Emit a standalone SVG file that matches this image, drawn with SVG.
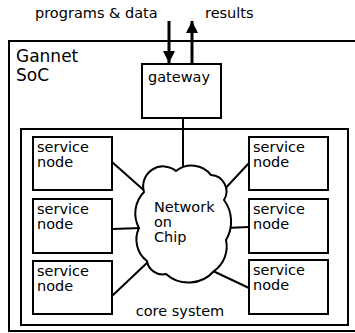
<svg xmlns="http://www.w3.org/2000/svg" width="355" height="333" viewBox="0 0 355 333">
<style>
text{font-family:"DejaVu Sans","Liberation Sans",sans-serif;font-size:14.5px;fill:#000}
.big{font-size:17px}
.box{fill:#fff;stroke:#000;stroke-width:2}
.frame{fill:none;stroke:#000;stroke-width:2}
.conn{stroke:#000;stroke-width:2;fill:none}
.arrow{stroke:#000;stroke-width:3;fill:none}
</style>
<defs>
<marker id="ah" viewBox="0 0 10 10" refX="10" refY="5" markerWidth="4" markerHeight="4.5" markerUnits="strokeWidth" orient="auto">
<path d="M0,0 L10,5 L0,10 Z" fill="#000"/>
</marker>
</defs>
<rect fill="#fff" x="0" y="0" width="355" height="333"/>
<g id="soc">
<rect class="frame" x="9" y="41" width="360" height="290"/>
<text class="big" x="16" y="62">Gannet</text>
<text class="big" x="16" y="80.5">SoC</text>
</g>
<g id="core-system">
<rect class="frame" x="21" y="129" width="327" height="196"/>
<text x="180" y="316" text-anchor="middle">core system</text>
</g>
<g id="io-labels">
<text x="35" y="18">programs &amp; data</text>
<text x="205" y="18">results</text>
</g>
<g id="connectors">
<line class="arrow" x1="169" y1="21" x2="169" y2="63" marker-end="url(#ah)"/>
<line class="arrow" x1="192" y1="64" x2="192" y2="21" marker-end="url(#ah)"/>
<line class="conn" x1="183" y1="118" x2="183" y2="172"/>
<line class="conn" x1="112" y1="162" x2="147" y2="193"/>
<line class="conn" x1="112" y1="229" x2="142" y2="228"/>
<line class="conn" x1="112" y1="296" x2="149" y2="261"/>
<line class="conn" x1="249" y1="163" x2="221" y2="193"/>
<line class="conn" x1="249" y1="227" x2="226" y2="228"/>
<line class="conn" x1="249" y1="288" x2="213" y2="271"/>
</g>
<g id="gateway">
<rect class="box" x="142" y="64" width="79" height="54"/>
<text x="148" y="82">gateway</text>
</g>
<g id="noc">
<path class="box" d="M144,192 A20,20 0 0 1 176,171 A25,25 0 0 1 211,175 A16.4,16.4 0 0 1 224,200 A36,36 0 0 1 226,240 A30,30 0 0 1 214,271 A33.8,33.8 0 0 1 166,274 A15.7,15.7 0 0 1 147,261 A27,27 0 0 1 139,228 A30.6,30.6 0 0 1 144,192 Z"/>
<text x="154" y="212">Network</text>
<text x="154" y="227">on</text>
<text x="154" y="242">Chip</text>
</g>
<g id="sn-l1"><rect class="box" x="33" y="137" width="79" height="53"/><text x="37" y="151.5">service</text><text x="37" y="166.5">node</text></g>
<g id="sn-l2"><rect class="box" x="33" y="199" width="79" height="54"/><text x="37" y="213.5">service</text><text x="37" y="228.5">node</text></g>
<g id="sn-l3"><rect class="box" x="33" y="261" width="79" height="53"/><text x="37" y="275.5">service</text><text x="37" y="290.5">node</text></g>
<g id="sn-r1"><rect class="box" x="249" y="137" width="79" height="53"/><text x="253" y="151.5">service</text><text x="253" y="166.5">node</text></g>
<g id="sn-r2"><rect class="box" x="249" y="199" width="79" height="54"/><text x="253" y="213.5">service</text><text x="253" y="228.5">node</text></g>
<g id="sn-r3"><rect class="box" x="249" y="260" width="79" height="54"/><text x="253" y="274.5">service</text><text x="253" y="289.5">node</text></g>
</svg>
